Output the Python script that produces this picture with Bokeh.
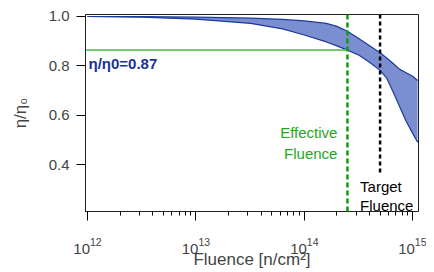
from bokeh.plotting import figure
from bokeh.models import Range1d, FixedTicker, Span, LogTicker, NumeralTickFormatter, Label
from bokeh.embed import file_html
from bokeh.resources import INLINE
from bokeh.core.properties import value

# ---- data ----
fluence = [1e12, 3.2e12, 1e13, 3.2e13, 6.3e13, 1e14, 1.6e14, 2e14, 2.5e14, 3.2e14,
           4e14, 5e14, 5.75e14, 6.6e14, 7.6e14, 8.7e14, 1e15, 1.11e15]
eta_upper = [1.000, 0.999, 0.997, 0.993, 0.988, 0.982, 0.972, 0.960, 0.940, 0.910,
             0.882, 0.853, 0.832, 0.810, 0.786, 0.772, 0.758, 0.741]
eta_lower = [1.000, 0.997, 0.989, 0.972, 0.950, 0.925, 0.897, 0.881, 0.864, 0.843,
             0.815, 0.782, 0.751, 0.694, 0.634, 0.576, 0.527, 0.491]
effective_fluence = 2.5e14
target_fluence = 5e14
eta_ratio = 0.87
y_ticks = [0.4, 0.6, 0.8, 1.0]
x_min, x_max = 9.58e11, 1.131e15
y_min, y_max = 0.211, 1.008
target_line_bottom = 0.366

FONT = "Liberation Sans"

p = figure(frame_width=333, frame_height=197, x_axis_type="log",
           x_range=Range1d(x_min, x_max), y_range=Range1d(y_min, y_max),
           output_backend="svg", toolbar_location=None,
           min_border_left=85, min_border_right=8, min_border_top=14, min_border_bottom=10)
p.grid.visible = False
p.outline_line_color = "#222222"
p.outline_line_width = 1
p.background_fill_color = "white"
p.border_fill_color = "white"

# band
p.varea(x=fluence, y1=eta_lower, y2=eta_upper, fill_color="#7b8fd0", fill_alpha=1.0)
p.line(fluence, eta_upper, line_color="#1a3a9c", line_width=1.2)
p.line(fluence, eta_lower, line_color="#1a3a9c", line_width=1.2)

# horizontal green line
p.segment(x0=[x_min], y0=[eta_ratio - 0.006], x1=[effective_fluence], y1=[eta_ratio - 0.006],
          line_color="#4cb848", line_width=1.5)

# vertical dashed lines
p.add_layout(Span(location=effective_fluence, dimension="height", line_color="#119a11",
                  line_width=2.5, line_dash="5 3"))
p.segment(x0=[target_fluence], y0=[y_max], x1=[target_fluence], y1=[target_line_bottom],
          line_color="black", line_width=2.5, line_dash="4 3")

# texts
p.text(x=[x_min], y=[0.81], text=["η/η0=0.87"], text_color="#1a3399",
       text_font=value(FONT), text_font_size="15px", text_font_style="bold",
       text_baseline="middle", text_align="left", x_offset=3)
p.add_layout(Label(x=effective_fluence, y=0.413, text="Effective\nFluence",
                   text_color="#22a822", text_font=FONT, text_font_size="15px",
                   text_baseline="bottom", text_align="right", x_offset=-10,
                   text_line_height=1.2))
p.add_layout(Label(x=target_fluence, y=0.200, text="Target\nFluence",
                   text_color="black", text_font=FONT, text_font_size="15px",
                   text_baseline="bottom", text_align="left", x_offset=-20,
                   text_line_height=1.15))

# axes
xa = p.xaxis[0]
xa.ticker = LogTicker(num_minor_ticks=10)
xa.axis_label = "Fluence [n/cm²]"
xa.axis_label_text_font = FONT
xa.axis_label_text_font_size = "17px"
xa.axis_label_text_font_style = "normal"
xa.axis_label_standoff = -7
xa.major_label_text_font = FONT
xa.major_label_text_font_size = "15px"
xa.major_label_standoff = 17
xa.major_tick_out = 9
xa.major_tick_in = 0
xa.minor_tick_out = 4
xa.minor_tick_in = 0
xa.axis_line_color = "#222222"

ya = p.yaxis[0]
ya.ticker = FixedTicker(ticks=y_ticks)
ya.formatter = NumeralTickFormatter(format="0.0")
ya.axis_label = "η/η₀"
ya.axis_label_text_font = FONT
ya.axis_label_text_font_size = "17px"
ya.axis_label_text_font_style = "normal"
ya.axis_label_standoff = 16
ya.major_label_text_font = FONT
ya.major_label_text_font_size = "15px"
ya.major_label_standoff = 7
ya.major_tick_out = 9
ya.major_tick_in = 0
ya.minor_tick_line_color = None
ya.axis_line_color = "#222222"

open("out.html", "w").write(file_html(p, INLINE))
